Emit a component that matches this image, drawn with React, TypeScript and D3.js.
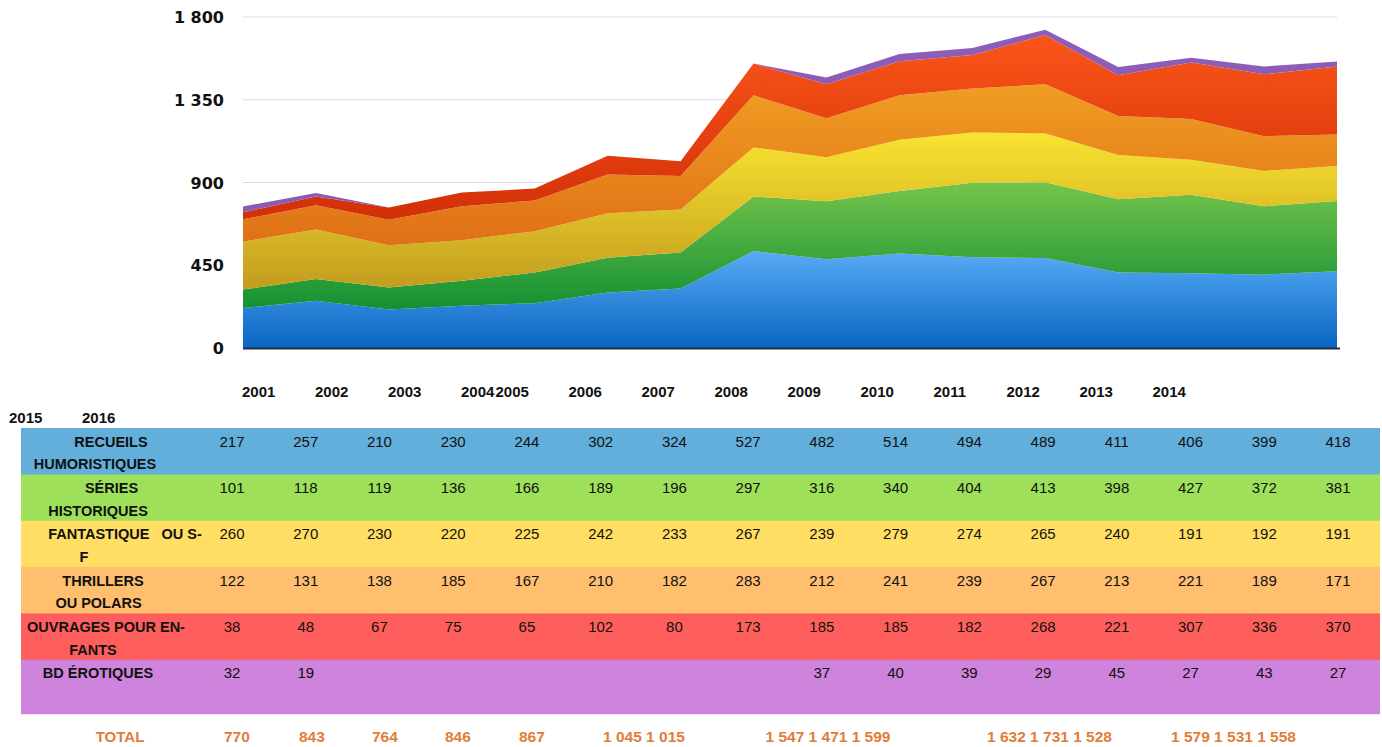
import React from "react";
import * as d3 from "d3";

const years = ["2001","2002","2003","2004","2005","2006","2007","2008","2009","2010","2011","2012","2013","2014","2015","2016"];
const humor = [217,257,210,230,244,302,324,527,482,514,494,489,411,406,399,418];
const historiques = [101,118,119,136,166,189,196,297,316,340,404,413,398,427,372,381];
const fantastique = [260,270,230,220,225,242,233,267,239,279,274,265,240,191,192,191];
const thrillers = [122,131,138,185,167,210,182,283,212,241,239,267,213,221,189,171];
const enfants = [38,48,67,75,65,102,80,173,185,185,182,268,221,307,336,370];
const erotiques: (number | null)[] = [32,19,null,null,null,null,null,null,37,40,39,29,45,27,43,27];

const seriesKeys = ["humor","historiques","fantastique","thrillers","enfants","erotiques"];
const seriesValues: (number | null)[][] = [humor, historiques, fantastique, thrillers, enfants, erotiques];
const rowLabels: string[][] = [
  ["RECUEILS", "HUMORISTIQUES"],
  ["SÉRIES", "HISTORIQUES"],
  ["FANTASTIQUE   OU S-", "F"],
  ["THRILLERS", "OU POLARS"],
  ["OUVRAGES POUR EN-", "FANTS"],
  ["BD ÉROTIQUES"],
];
const yTicks = [0, 450, 900, 1350, 1800];
const totalLabel = "TOTAL";
const totalGroups = [[0],[1],[2],[3],[4],[5,6],[7,8,9],[10,11,12],[13,14,15]];

// styling / layout
const areaGrad = [
  ["#58abf5", "#0965c2"],
  ["#76c44b", "#139033"],
  ["#f9e42f", "#c29c1f"],
  ["#f09d23", "#e07016"],
  ["#fa5519", "#d22f08"],
  ["#8d5db8", "#8a5ab4"],
];
const rowColors = ["#62afdb", "#9ee05a", "#ffde63", "#ffbf6f", "#ff5f5c", "#ce83dc"];
const rowTops = [428, 474.5, 520.7, 567, 613.5, 659.7, 713.7];
const labelCenters = [[111, 95], [111.5, 98], [125, 84], [103, 98.5], [106, 93], [98]];
const totalStarts = [224, 299, 372, 445, 519, 603, 765.5, 987, 1171];

function fmt(n: number) {
  return d3.format(",")(n).replace(/,/g, " ");
}

export default function App() {
  const x = d3.scalePoint<string>().domain(years).range([243, 1337]);
  const y = d3.scaleLinear().domain([0, 1800]).range([348, 17]);

  const table = years.map((yr, i) => {
    const o: any = { year: yr };
    seriesKeys.forEach((k, s) => (o[k] = seriesValues[s][i] ?? 0));
    return o;
  });
  const stacked = d3.stack<any>().keys(seriesKeys)(table);
  const area = d3
    .area<any>()
    .x((d) => x(d.data.year) as number)
    .y0((d) => y(d[0]))
    .y1((d) => y(d[1]));

  const totals = years.map((_, i) => seriesValues.reduce((a, s) => a + (s[i] ?? 0), 0));

  // x labels: flowed text (2004 and 2005 run together, 2015/2016 wrap)
  const labelW = 34.5;
  const xLabelPos: { t: string; x: number; y: number }[] = [];
  let cx = 242;
  years.forEach((yr, i) => {
    if (i >= 14) {
      xLabelPos.push({ t: yr, x: 9 + 73 * (i - 14), y: 397 + 26 });
      return;
    }
    if (i === 4) {
      cx = cx - 73 + labelW;
    }
    xLabelPos.push({ t: yr, x: cx, y: 397 });
    cx += 73;
  });

  const colX = d3.scalePoint<string>().domain(years).range([232, 1338]);

  return (
    <svg
      width={1382}
      height={747}
      style={{ position: "absolute", left: 0, top: 0, background: "#fff" }}
      fontFamily="'Liberation Sans', Arial, sans-serif"
    >
      <defs>
        {areaGrad.map((g, i) => (
          <linearGradient key={i} id={`g${i}`} x1="0" y1="0" x2="0" y2="1">
            <stop offset="0" stopColor={g[0]} />
            <stop offset="1" stopColor={g[1]} />
          </linearGradient>
        ))}
      </defs>

      {yTicks.filter((t) => t > 0).map((t) => (
        <line key={t} x1={243} x2={1337} y1={y(t)} y2={y(t)} stroke="#dcdcdc" strokeWidth={1.2} />
      ))}

      {stacked.map((s, i) => (
        <path key={s.key} d={area(s) as string} fill={`url(#g${i})`} />
      ))}

      <line x1={243} x2={1340} y1={348.5} y2={348.5} stroke="#22303e" strokeWidth={2} />

      {yTicks.map((t) => (
        <text
          key={t}
          x={224}
          y={y(t) + 6}
          textAnchor="end"
          fontFamily="'DejaVu Sans', sans-serif"
          fontWeight="bold"
          fontSize={16}
          fill="#111"
        >
          {fmt(t)}
        </text>
      ))}

      {xLabelPos.map((l) => (
        <text key={l.t} x={l.x} y={l.y} fontWeight="bold" fontSize={15} fill="#111">
          {l.t}
        </text>
      ))}

      {rowColors.map((c, r) => (
        <rect key={r} x={21} y={rowTops[r]} width={1359} height={rowTops[r + 1] - rowTops[r] + 0.5} fill={c} />
      ))}

      {rowLabels.map((lines, r) =>
        lines.map((ln, j) => (
          <text
            key={`${r}-${j}`}
            x={labelCenters[r][j]}
            y={rowTops[r] + 18.5 + j * 22.5}
            textAnchor="middle"
            fontWeight="bold"
            fontSize={14.5}
            fill="#111"
            style={{ whiteSpace: "pre" }}
          >
            {ln}
          </text>
        ))
      )}

      {seriesValues.map((vals, r) =>
        vals.map((v, i) =>
          v == null ? null : (
            <text
              key={`${r}-${i}`}
              x={colX(years[i]) as number}
              y={rowTops[r] + 18.5}
              textAnchor="middle"
              fontSize={15}
              fill="#111"
            >
              {v}
            </text>
          )
        )
      )}

      <text x={120} y={742} textAnchor="middle" fontWeight="bold" fontSize={15} fill="#e07d3a">
        {totalLabel}
      </text>
      {totalGroups.map((g, k) => (
        <text key={k} x={totalStarts[k]} y={742} fontWeight="bold" fontSize={15.5} fill="#e07d3a">
          {g.map((i) => fmt(totals[i])).join(" ")}
        </text>
      ))}
    </svg>
  );
}
